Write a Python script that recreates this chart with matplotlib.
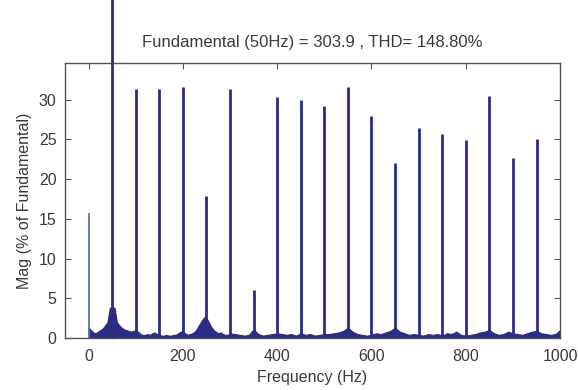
import numpy as np
import matplotlib.pyplot as plt

BAR_COLOR = '#2b2d85'
TEXT_COLOR = '#3a3a3a'

# harmonic lines (Hz) and magnitudes (% of fundamental)
harm_freq = [0, 50, 100, 150, 200, 250, 300, 350, 400, 450, 500,
             550, 600, 650, 700, 750, 800, 850, 900, 950]
harm_mag = [15.8, 100.0, 31.4, 31.3, 31.6, 17.9, 31.3, 6.1, 30.4, 30.0, 29.2,
            31.6, 28.0, 22.0, 26.4, 25.7, 24.9, 30.5, 22.7, 25.1]

# noise floor between the harmonics
noise_freq = list(range(0, 300, 5)) + list(range(300, 1001, 10))
noise_mag = [
    # 0 - 295 Hz, every 5 Hz
    1.3, 1.0, 0.7, 0.6, 0.8, 1.0, 1.2, 1.6, 2.0, 3.8, 3.9, 3.8, 2.0, 1.6,
    1.3, 1.1, 1.0, 0.9, 0.8, 0.9, 1.0, 0.8, 0.5, 0.4, 0.4, 0.5, 0.4, 0.6,
    0.7, 0.5, 0.4, 0.3, 0.3, 0.4, 0.3, 0.3, 0.4, 0.4, 0.6, 0.8, 0.8, 0.6,
    0.4, 0.5, 0.6, 0.8, 1.2, 1.7, 2.2, 2.6, 2.5, 2.0, 1.4, 1.0, 0.8, 0.6,
    0.7, 0.5, 0.4, 0.4,
    # 300 - 1000 Hz, every 10 Hz
    0.6, 0.5, 0.4, 0.3, 0.4, 1.1, 0.5, 0.3, 0.4, 0.5,
    0.6, 0.5, 0.4, 0.5, 0.3, 0.6, 0.4, 0.5, 0.3, 0.4,
    0.5, 0.5, 0.6, 0.7, 0.9, 1.3, 0.8, 0.5, 0.4, 0.3,
    0.4, 0.6, 0.5, 0.7, 0.9, 1.3, 0.8, 0.6, 0.4, 0.5,
    0.4, 0.3, 0.5, 0.4, 0.5, 0.3, 0.6, 0.5, 0.8, 0.4,
    0.3, 0.4, 0.5, 0.7, 0.8, 1.0, 0.6, 0.4, 0.5, 0.8,
    0.6, 0.5, 0.4, 0.6, 0.8, 0.9, 0.6, 0.5, 0.4, 0.5,
    1.0]

plt.rcParams.update({
    'font.family': ['Liberation Sans', 'DejaVu Sans'],
    'font.size': 11,
})

fig = plt.figure(figsize=(5.78, 3.90), dpi=100)
ax = fig.add_axes([0.1125, 0.1333, 0.8565, 0.7047])

ax.fill_between(noise_freq, 0, noise_mag, color=BAR_COLOR, lw=0.8,
                edgecolor=BAR_COLOR, zorder=2)
for f, m in zip(harm_freq, harm_mag):
    lw = 1.3 if f == 0 else 2.0
    col = '#5b74b0' if f == 0 else BAR_COLOR
    ax.vlines(f, 0, m, color=col, lw=lw, zorder=3,
              clip_on=(f != 50))

ax.set_xlim(-50, 1000)
ax.set_ylim(0, 34.6)
ax.set_xticks([0, 200, 400, 600, 800, 1000])
ax.set_yticks([0, 5, 10, 15, 20, 25, 30])
ax.tick_params(direction='in', top=True, right=True, length=4,
               colors='#555555', labelcolor=TEXT_COLOR, labelsize=11.5)
ax.tick_params(axis='x', pad=8)
ax.tick_params(axis='y', pad=6)
for s in ax.spines.values():
    s.set_color('#555555')
    s.set_linewidth(1.0)

ax.set_xlabel('Frequency (Hz)', color=TEXT_COLOR, fontsize=11.5, labelpad=4)
ax.set_ylabel('Mag (% of Fundamental)', color=TEXT_COLOR, fontsize=11.5,
              labelpad=5)
ax.set_title('Fundamental (50Hz) = 303.9 , THD= 148.80%',
             color=TEXT_COLOR, fontsize=12, pad=12)

fig.savefig('out.png', dpi=100)
